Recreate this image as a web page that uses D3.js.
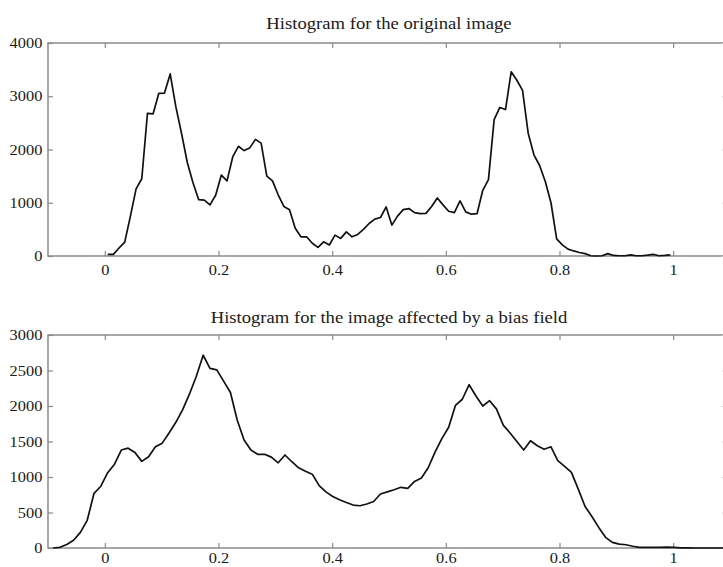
<!DOCTYPE html>
<html>
<head>
<meta charset="utf-8">
<script src="https://cdn.jsdelivr.net/npm/d3@7"></script>
<style>
  html, body { margin: 0; padding: 0; background: #fff; }
  svg { display: block; }
</style>
</head>
<body>
<svg id="chart" width="723" height="567"></svg>
<script>
// Intensity histograms: original image and the same image under a bias field.

const xTicks = [0, 0.2, 0.4, 0.6, 0.8, 1];
const xTickLabels = ["0", "0.2", "0.4", "0.6", "0.8", "1"];
const yTicksOriginal = [0, 1000, 2000, 3000, 4000];
const yTicksBiased = [0, 500, 1000, 1500, 2000, 2500, 3000];

const titleOriginal = "Histogram for the original image";
const titleBiased = "Histogram for the image affected by a bias field";

// Bin centres (normalised intensity) and counts, original image
const binsOriginal = [
  0.005, 0.015, 0.025, 0.035, 0.045, 0.055, 0.065, 0.075, 0.085, 0.095,
  0.105, 0.115, 0.125, 0.135, 0.145, 0.155, 0.165, 0.175, 0.185, 0.195,
  0.205, 0.215, 0.225, 0.235, 0.245, 0.255, 0.265, 0.275, 0.285, 0.295,
  0.305, 0.315, 0.325, 0.335, 0.345, 0.355, 0.365, 0.375, 0.385, 0.395,
  0.405, 0.415, 0.425, 0.435, 0.445, 0.455, 0.465, 0.475, 0.485, 0.495,
  0.505, 0.515, 0.525, 0.535, 0.545, 0.555, 0.565, 0.575, 0.585, 0.595,
  0.605, 0.615, 0.625, 0.635, 0.645, 0.655, 0.665, 0.675, 0.685, 0.695,
  0.705, 0.715, 0.725, 0.735, 0.745, 0.755, 0.765, 0.775, 0.785, 0.795,
  0.805, 0.815, 0.825, 0.835, 0.845, 0.855, 0.865, 0.875, 0.885, 0.895,
  0.905, 0.915, 0.925, 0.935, 0.945, 0.955, 0.965, 0.975, 0.985, 0.995
];
const countsOriginal = [
  30, 30, 150, 260, 750, 1260, 1450, 2680, 2670, 3055,
  3060, 3420, 2800, 2300, 1760, 1380, 1060, 1050, 960, 1140,
  1520, 1410, 1860, 2060, 1980, 2030, 2190, 2120, 1500, 1410,
  1150, 930, 870, 520, 361, 361, 240, 162, 267, 206,
  392, 330, 454, 361, 405, 500, 610, 692, 723, 922,
  580, 748, 870, 891, 815, 797, 800, 930, 1090, 960,
  840, 816, 1034, 829, 785, 797, 1234, 1433, 2560, 2790,
  2750, 3460, 3300, 3110, 2300, 1900, 1700, 1400, 1000, 320,
  210, 130, 95, 65, 45, 5, 0, 5, 45, 10,
  5, 5, 20, 5, 5, 15, 30, 5, 10, 20
];

// Bin centres and counts, image with bias field
const binsBiased = [
  -0.091, -0.079, -0.067, -0.055, -0.043, -0.031, -0.019, -0.007, 0.005, 0.017,
  0.029, 0.041, 0.053, 0.065, 0.077, 0.089, 0.101, 0.113, 0.125, 0.137,
  0.149, 0.161, 0.173, 0.185, 0.197, 0.209, 0.221, 0.233, 0.245, 0.257,
  0.269, 0.281, 0.293, 0.305, 0.317, 0.329, 0.341, 0.353, 0.365, 0.377,
  0.389, 0.401, 0.413, 0.425, 0.437, 0.449, 0.461, 0.473, 0.485, 0.497,
  0.509, 0.521, 0.533, 0.545, 0.557, 0.569, 0.581, 0.593, 0.605, 0.617,
  0.629, 0.641, 0.653, 0.665, 0.677, 0.689, 0.701, 0.713, 0.725, 0.737,
  0.749, 0.761, 0.773, 0.785, 0.797, 0.809, 0.821, 0.833, 0.845, 0.857,
  0.869, 0.881, 0.893, 0.905, 0.917, 0.929, 0.941, 0.953, 0.965, 0.977,
  0.989, 1.001, 1.013, 1.025, 1.037, 1.049, 1.061, 1.073, 1.085, 1.097
];
const countsBiased = [
  0, 10, 50, 110, 220, 390, 770, 870, 1060, 1180,
  1380, 1406, 1345, 1220, 1285, 1425, 1477, 1620, 1770, 1950,
  2170, 2420, 2715, 2530, 2508, 2350, 2190, 1800, 1520, 1380,
  1320, 1320, 1280, 1200, 1310, 1215, 1130, 1080, 1040, 880,
  790, 726, 680, 640, 605, 595, 620, 655, 760, 790,
  820, 855, 840, 937, 985, 1130, 1350, 1540, 1700, 2010,
  2095, 2300, 2140, 2000, 2075, 1960, 1730, 1620, 1500, 1380,
  1510, 1440, 1390, 1425, 1230, 1150, 1065, 830, 585, 444,
  290, 150, 80, 55, 46, 25, 10, 8, 10, 8,
  12, 8, 3, 2, 0, 0, 0, 0, 0, 0
];

const svg = d3.select("#chart");
const AXIS_COLOR = "#8a8a8a";
const TEXT_COLOR = "#1a1a1a";
const FONT = "'Liberation Serif', 'Times New Roman', serif";
const STRETCH = "scale(1.13,1)";

function panel(cfg) {
  const { left, right, top, bottom, yMax, yTicks, bins, counts, title, titleY, xLabelPad } = cfg;

  const x = d3.scaleLinear().domain([-0.1, 1.1]).range([left, right]);
  const y = d3.scaleLinear().domain([0, yMax]).range([bottom, top]);

  const g = svg.append("g");

  // Frame
  g.append("rect")
    .attr("x", left).attr("y", top)
    .attr("width", right - left).attr("height", bottom - top)
    .attr("fill", "none")
    .attr("stroke", AXIS_COLOR)
    .attr("stroke-width", 1.5);

  const styleAxis = sel => {
    sel.select(".domain").remove();
    sel.selectAll(".tick line").attr("stroke", AXIS_COLOR).attr("stroke-width", 1.2);
    sel.selectAll(".tick text")
      .attr("fill", TEXT_COLOR)
      .style("font-family", FONT)
      .style("font-size", "14.5px")
      .attr("transform", STRETCH);
  };

  // Bottom axis with labels, ticks pointing inward
  g.append("g")
    .attr("transform", `translate(0,${bottom})`)
    .call(d3.axisBottom(x).tickValues(xTicks)
      .tickFormat((d, i) => xTickLabels[i])
      .tickSizeInner(-5).tickSizeOuter(0).tickPadding(xLabelPad))
    .call(styleAxis);

  // Top axis: ticks only
  g.append("g")
    .attr("transform", `translate(0,${top})`)
    .call(d3.axisTop(x).tickValues(xTicks).tickFormat("")
      .tickSizeInner(-5).tickSizeOuter(0))
    .call(styleAxis);

  // Left axis with labels
  g.append("g")
    .attr("transform", `translate(${left},0)`)
    .call(d3.axisLeft(y).tickValues(yTicks).tickFormat(d3.format("d"))
      .tickSizeInner(-5).tickSizeOuter(0).tickPadding(5))
    .call(styleAxis);

  // Right axis: ticks only
  g.append("g")
    .attr("transform", `translate(${right},0)`)
    .call(d3.axisRight(y).tickValues(yTicks).tickFormat("")
      .tickSizeInner(-8).tickSizeOuter(0))
    .call(styleAxis)
    .selectAll(".tick line").attr("stroke", "#d0d0d0");

  // Histogram curve
  const line = d3.line().x((d, i) => x(bins[i])).y(d => y(d));
  g.append("path")
    .datum(counts)
    .attr("d", line)
    .attr("fill", "none")
    .attr("stroke", "#111")
    .attr("stroke-width", 1.7)
    .attr("stroke-linejoin", "round");

  // Title
  g.append("g")
    .attr("transform", `translate(${(left + right) / 2},${titleY})`)
    .append("text")
    .attr("transform", STRETCH)
    .attr("text-anchor", "middle")
    .attr("fill", TEXT_COLOR)
    .style("font-family", FONT)
    .style("font-size", "16.5px")
    .text(title);
}

panel({
  left: 48, right: 730, top: 43, bottom: 256,
  yMax: 4000, yTicks: yTicksOriginal,
  bins: binsOriginal, counts: countsOriginal,
  title: titleOriginal, titleY: 29, xLabelPad: 9
});

panel({
  left: 48, right: 730, top: 335, bottom: 548,
  yMax: 3000, yTicks: yTicksBiased,
  bins: binsBiased, counts: countsBiased,
  title: titleBiased, titleY: 323, xLabelPad: 5
});
</script>
</body>
</html>
